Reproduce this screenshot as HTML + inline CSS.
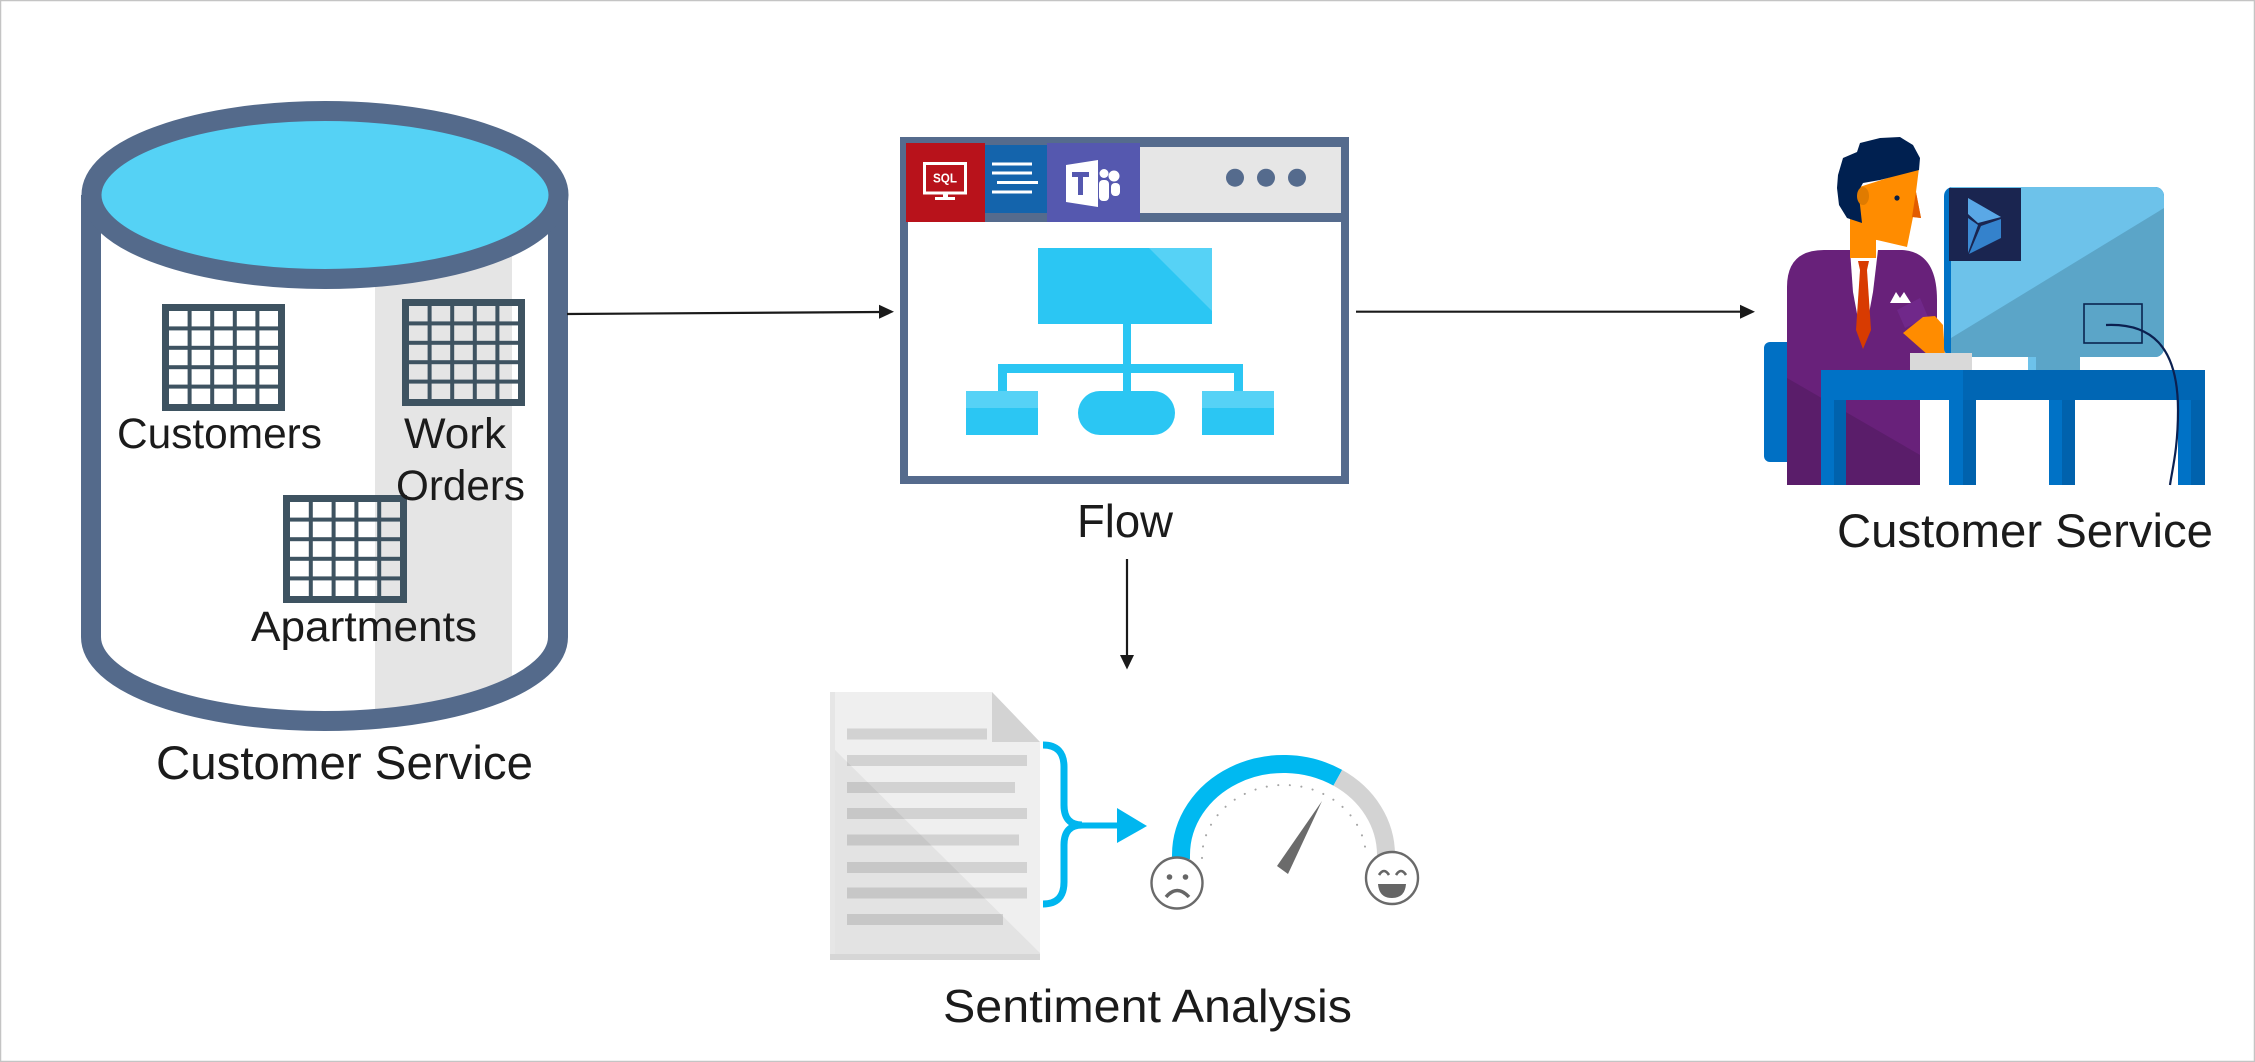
<!DOCTYPE html>
<html><head><meta charset="utf-8">
<style>
html,body{margin:0;padding:0;background:#fff;}
svg{display:block;}
text{font-family:"Liberation Sans",Arial,sans-serif;fill:#1b1b1b;}
</style></head>
<body>
<svg width="2255" height="1062" viewBox="0 0 2255 1062" xmlns="http://www.w3.org/2000/svg">
<defs>
<clipPath id="cylclip"><path d="M91,195 L91,637 A233.5,84 0 0 0 558,637 L558,195 Z"/></clipPath>
<clipPath id="monclip"><rect x="1944" y="187" width="220" height="170" rx="9"/></clipPath>
</defs>
<rect x="0" y="0" width="2255" height="1062" fill="#fff"/>
<rect x="0.5" y="0.5" width="2254" height="1061" fill="none" stroke="#c4c4c4" stroke-width="1.5"/>

<!-- Cylinder -->
<path d="M91,195 L91,637 A233.5,84 0 0 0 558,637 L558,195 Z" fill="#fff"/>
<rect x="375" y="195" width="137" height="540" fill="#e5e5e5" clip-path="url(#cylclip)"/>
<path d="M91,195 L91,637 A233.5,84 0 0 0 558,637 L558,195" fill="none" stroke="#546a8b" stroke-width="20"/>
<ellipse cx="325" cy="195" rx="233.5" ry="84" fill="#55d2f5" stroke="#546a8b" stroke-width="20"/>

<!-- Tables -->
<g fill="#3e5361">
<!-- Customers -->
<rect x="165.5" y="307.5" width="116" height="100" fill="none" stroke="#3e5361" stroke-width="7"/>
<rect x="187.6" y="311" width="4" height="93"/><rect x="210.2" y="311" width="4" height="93"/><rect x="232.8" y="311" width="4" height="93"/><rect x="255.4" y="311" width="4" height="93"/>
<rect x="169" y="326.4" width="109" height="4"/><rect x="169" y="345.8" width="109" height="4"/><rect x="169" y="365.2" width="109" height="4"/><rect x="169" y="384.6" width="109" height="4"/>
<!-- Work Orders -->
<rect x="405.5" y="302.5" width="116" height="100" fill="none" stroke="#3e5361" stroke-width="7"/>
<rect x="427.6" y="306" width="4" height="94"/><rect x="450.2" y="306" width="4" height="94"/><rect x="472.8" y="306" width="4" height="94"/><rect x="495.4" y="306" width="4" height="94"/>
<rect x="409" y="321.4" width="109" height="4"/><rect x="409" y="340.8" width="109" height="4"/><rect x="409" y="360.2" width="109" height="4"/><rect x="409" y="379.6" width="109" height="4"/>
<!-- Apartments -->
<rect x="286.5" y="498.5" width="117" height="101" fill="none" stroke="#3e5361" stroke-width="7"/>
<rect x="308.8" y="502" width="4" height="94"/><rect x="331.6" y="502" width="4" height="94"/><rect x="354.4" y="502" width="4" height="94"/><rect x="377.2" y="502" width="4" height="94"/>
<rect x="290" y="517.6" width="110" height="4"/><rect x="290" y="537.2" width="110" height="4"/><rect x="290" y="556.8" width="110" height="4"/><rect x="290" y="576.4" width="110" height="4"/>
</g>

<text x="117" y="448" font-size="43" textLength="205" lengthAdjust="spacingAndGlyphs">Customers</text>
<text x="404" y="448" font-size="43" textLength="102" lengthAdjust="spacingAndGlyphs">Work</text>
<text x="396" y="500" font-size="43" textLength="129" lengthAdjust="spacingAndGlyphs">Orders</text>
<text x="251" y="641" font-size="43" textLength="226" lengthAdjust="spacingAndGlyphs">Apartments</text>
<text x="156" y="779" font-size="47" textLength="377" lengthAdjust="spacingAndGlyphs">Customer Service</text>

<!-- Arrow 1 -->
<line x1="567" y1="314" x2="881" y2="312" stroke="#1a1a1a" stroke-width="2.2"/>
<polygon points="894,311.7 879,304.7 879,318.7" fill="#1a1a1a"/>

<!-- Flow window -->
<rect x="900" y="137" width="449" height="347" fill="#556b8d"/>
<rect x="908" y="222" width="433" height="254" fill="#fff"/>
<rect x="1140" y="147" width="201" height="66" fill="#e6e6e6"/>
<rect x="906" y="143" width="79" height="79" fill="#b8121b"/>
<rect x="985" y="145" width="64" height="68" fill="#1464ac"/>
<rect x="1047" y="143" width="93" height="79" fill="#5558af"/>
<circle cx="1235" cy="177.7" r="9" fill="#556b8d"/>
<circle cx="1266" cy="177.7" r="9" fill="#556b8d"/>
<circle cx="1297" cy="177.7" r="9" fill="#556b8d"/>
<!-- SQL icon -->
<rect x="924.5" y="163.5" width="41" height="29.5" fill="none" stroke="#fff" stroke-width="3"/>
<text x="933" y="182.5" font-size="13" font-weight="bold" textLength="24" lengthAdjust="spacingAndGlyphs" style="fill:#fff">SQL</text>
<rect x="943" y="193" width="5" height="4" fill="#fff"/>
<rect x="935" y="197" width="20" height="3" fill="#fff"/>
<!-- lines icon -->
<rect x="992" y="162.5" width="40" height="3" fill="#fff"/>
<rect x="992" y="171.5" width="40" height="3" fill="#fff"/>
<rect x="997" y="181" width="41" height="3" fill="#fff"/>
<rect x="992" y="190.5" width="40" height="3" fill="#fff"/>
<!-- Teams icon -->
<polygon points="1066,165 1098,160 1098,207 1066,202" fill="#fff"/>
<rect x="1072" y="172" width="17" height="5" fill="#5558af"/>
<rect x="1078" y="176" width="5" height="19" fill="#5558af"/>
<circle cx="1104" cy="173.5" r="4.5" fill="#fff"/>
<circle cx="1114" cy="176" r="5.5" fill="#fff"/>
<rect x="1099" y="180" width="10" height="21" rx="4" fill="#fff"/>
<rect x="1111" y="183" width="9" height="13" rx="4" fill="#fff"/>
<!-- Flow diagram -->
<rect x="1038" y="248" width="174" height="76" fill="#2bc6f3"/>
<polygon points="1149,248 1212,248 1212,311" fill="#56d2f6"/>
<rect x="1123" y="324" width="8" height="67" fill="#2bc6f3"/>
<rect x="998" y="364" width="245" height="9" fill="#2bc6f3"/>
<rect x="998" y="364" width="9" height="27" fill="#2bc6f3"/>
<rect x="1234" y="364" width="9" height="27" fill="#2bc6f3"/>
<rect x="966" y="391" width="72" height="44" fill="#2bc6f3"/>
<rect x="966" y="391" width="72" height="17" fill="#56d2f6"/>
<rect x="1078" y="391" width="97" height="44" rx="22" fill="#2bc6f3"/>
<rect x="1202" y="391" width="72" height="44" fill="#2bc6f3"/>
<rect x="1202" y="391" width="72" height="17" fill="#56d2f6"/>
<text x="1077" y="537" font-size="46" textLength="96" lengthAdjust="spacingAndGlyphs">Flow</text>

<!-- Arrow 2 -->
<line x1="1356" y1="311.7" x2="1742" y2="311.7" stroke="#1a1a1a" stroke-width="2.2"/>
<polygon points="1755,311.7 1740,304.7 1740,318.7" fill="#1a1a1a"/>

<!-- Arrow 3 -->
<line x1="1127" y1="559" x2="1127" y2="657" stroke="#1a1a1a" stroke-width="2.2"/>
<polygon points="1127,669.5 1120,655 1134,655" fill="#1a1a1a"/>

<!-- Person at desk -->
<rect x="1764" y="342" width="30" height="120" rx="6" fill="#0070c4"/>
<path d="M1787,485 L1787,287 Q1787,250 1824,250 L1902,250 Q1937,252 1937,300 L1937,370 L1920,370 L1920,485 Z" fill="#68217a"/>
<polygon points="1787,378 1920,455 1920,485 1787,485" fill="#5a1d6a"/>
<polygon points="1850,250 1878,250 1873,292 1863,346 1853,292" fill="#fff"/>
<polygon points="1858,261 1869,261 1867,270 1860,270" fill="#d83b01"/>
<polygon points="1860,270 1867,270 1871,330 1863,349 1856,330" fill="#d83b01"/>
<polygon points="1890,303 1896,292 1900,298 1904,292 1911,303" fill="#fff"/>
<polygon points="1897,310 1920,298 1928,317 1905,328" fill="#70288a"/>
<rect x="1850" y="220" width="26" height="38" fill="#ff8c00"/>
<polygon points="1850,190 1919,168 1916,192 1921,218 1913,217 1907,247 1877,240 1850,238" fill="#ff8c00"/>
<polygon points="1916,192 1921,218 1912,217" fill="#e25c00"/>
<path d="M1838,175 L1843,158 L1857,152 L1860,143 L1880,138 L1900,137 L1913,145 L1920,158 L1919,170 L1880,180 L1863,183 L1858,192 L1860,205 L1862,223 L1847,218 L1839,205 L1837,188 Z" fill="#002050"/>
<ellipse cx="1863" cy="196" rx="6" ry="9" fill="#e07b00"/>
<circle cx="1897" cy="198" r="2.6" fill="#0a1f44"/>
<polygon points="1903,333 1923,317 1935,316 1943,325 1945,355 1928,355" fill="#ff8c00"/>
<!-- monitor -->
<rect x="1944" y="187" width="220" height="170" rx="9" fill="#0072c6"/>
<g clip-path="url(#monclip)">
<rect x="1951" y="187" width="213" height="170" fill="#6dc2ea"/>
<polygon points="1951,338 2164,208 2164,357 1951,357" fill="#5ba5c8"/>
</g>
<rect x="1949" y="188" width="72" height="73" fill="#1a2550"/>
<polygon points="1968,198 2001,217 1978,223 1968,214" fill="#5aa8e6"/>
<polygon points="1968,218 1978,225 1968,253" fill="#3d8bd4"/>
<polygon points="2001,219 2001,238 1969,254 1981,226" fill="#3482cc"/>
<rect x="2084" y="304" width="58" height="39" fill="none" stroke="#0b2550" stroke-width="1.6"/>
<rect x="2028" y="357" width="52" height="13" fill="#5ba5c8"/>
<rect x="2028" y="357" width="8" height="13" fill="#6dc2ea"/>
<rect x="1910" y="353" width="62" height="17" fill="#d9d9d9"/>
<!-- desk -->
<rect x="1821" y="370" width="142" height="30" fill="#0072c6"/>
<rect x="1963" y="370" width="242" height="30" fill="#0066b4"/>
<rect x="1821" y="400" width="13" height="85" fill="#0072c6"/><rect x="1834" y="400" width="12" height="85" fill="#0062ad"/>
<rect x="1949" y="400" width="14" height="85" fill="#0072c6"/><rect x="1963" y="400" width="13" height="85" fill="#0062ad"/>
<rect x="2049" y="400" width="13" height="85" fill="#0072c6"/><rect x="2062" y="400" width="13" height="85" fill="#0062ad"/>
<rect x="2178" y="400" width="13" height="85" fill="#0072c6"/><rect x="2191" y="400" width="14" height="85" fill="#0062ad"/>
<path d="M2106,325 C2150,323 2178,345 2178,410 C2178,450 2172,470 2170,485" fill="none" stroke="#0b2050" stroke-width="2.2"/>

<text x="1837" y="547" font-size="47" textLength="376" lengthAdjust="spacingAndGlyphs">Customer Service</text>

<!-- Document -->
<polygon points="830,692 992,692 1040,742 1040,960 830,960" fill="#efefef"/>
<polygon points="830,745 1040,953 1040,960 830,960" fill="#e3e3e3"/>
<rect x="830" y="692" width="5" height="268" fill="#e6e6e6"/>
<rect x="830" y="954" width="210" height="6" fill="#d6d6d6"/>
<polygon points="992,692 1040,742 992,742" fill="#d3d3d3"/>
<g fill="#000" fill-opacity="0.12">
<rect x="847" y="728.5" width="140" height="11"/>
<rect x="847" y="755" width="180" height="11"/>
<rect x="847" y="782" width="168" height="11"/>
<rect x="847" y="808" width="180" height="11"/>
<rect x="847" y="834.5" width="172" height="11"/>
<rect x="847" y="862" width="180" height="11"/>
<rect x="847" y="887.5" width="180" height="11"/>
<rect x="847" y="914" width="156" height="11"/>
</g>
<!-- brace & arrow -->
<path d="M1043,745 Q1064,745 1064,767 L1064,805 Q1064,825 1082,825 Q1064,825 1064,845 L1064,882 Q1064,904 1043,904" fill="none" stroke="#00b6ef" stroke-width="7"/>
<line x1="1080" y1="825.5" x2="1120" y2="825.5" stroke="#00b6ef" stroke-width="6"/>
<polygon points="1117,808 1147,826 1117,843" fill="#00b6ef"/>
<!-- gauge -->
<path d="M1181,859 L1181,855 A102.5,91 0 0 1 1337.8,777.8" fill="none" stroke="#00b9f1" stroke-width="18"/>
<path d="M1337.8,777.8 A102.5,91 0 0 1 1386,855 L1386,856" fill="none" stroke="#d3d3d3" stroke-width="18"/>
<path d="M1202,858 A82,73 0 0 1 1366,858" fill="none" stroke="#a5a5a5" stroke-width="2" stroke-linecap="round" stroke-dasharray="0.1 11.5"/>
<polygon points="1277,866 1288,874 1322,801" fill="#6b6b6b"/>
<circle cx="1177" cy="883" r="25.5" fill="#fff" stroke="#6a6a6a" stroke-width="2.4"/>
<circle cx="1169.5" cy="877" r="2.8" fill="#666"/>
<circle cx="1185.5" cy="877" r="2.8" fill="#666"/>
<path d="M1166,897 Q1177,884 1189,897" fill="none" stroke="#666" stroke-width="3.5"/>
<circle cx="1392" cy="878" r="26" fill="#fff" stroke="#6a6a6a" stroke-width="2.4"/>
<path d="M1379,875 Q1384,867 1389,875 M1396,875 Q1401,867 1406,875" fill="none" stroke="#666" stroke-width="2.6"/>
<path d="M1378,884 L1406,884 Q1405,898 1392,898 Q1379,898 1378,884 Z" fill="#666"/>

<text x="943" y="1022" font-size="46" textLength="409" lengthAdjust="spacingAndGlyphs">Sentiment Analysis</text>
</svg>
</body></html>
